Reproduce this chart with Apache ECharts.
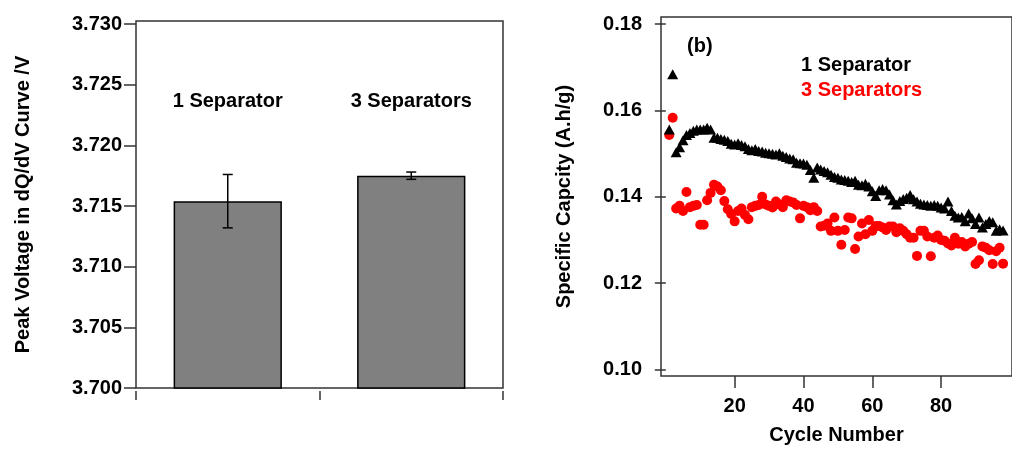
<!DOCTYPE html>
<html>
<head>
<meta charset="utf-8">
<script src="https://cdn.jsdelivr.net/npm/echarts@6/dist/echarts.min.js"></script>
<style>
  html, body { margin: 0; padding: 0; background: #fff; }
  #main { width: 1012px; height: 450px; }
</style>
</head>
<body>
<div id="main"></div>
<script>
// left panel: peak voltage bars
const barCategories = ['1 Separator', '3 Separators'];
const peakVoltage = [3.7154, 3.7175];
const peakVoltageErr = [0.0022, 0.0003];
const voltageTicks = [3.700, 3.705, 3.710, 3.715, 3.720, 3.725, 3.730];

// right panel: specific capacity vs cycle (cycle 1..98)
const capacity1Sep = [
  0.1556, 0.1684, 0.1503, 0.1515, 0.1531, 0.1543, 0.1548, 0.1553, 0.1556, 0.1556,
  0.1556, 0.1560, 0.1556, 0.1537, 0.1537, 0.1534, 0.1532, 0.1529, 0.1523, 0.1521,
  0.1524, 0.1520, 0.1517, 0.1511, 0.1508, 0.1511, 0.1506, 0.1505, 0.1502, 0.1501,
  0.1500, 0.1498, 0.1501, 0.1495, 0.1492, 0.1489, 0.1487, 0.1479, 0.1478, 0.1477,
  0.1474, 0.1462, 0.1444, 0.1468, 0.1463, 0.1460, 0.1457, 0.1451, 0.1446, 0.1444,
  0.1440, 0.1439, 0.1437, 0.1434, 0.1437, 0.1428, 0.1427, 0.1430, 0.1424, 0.1413,
  0.1402, 0.1415, 0.1418, 0.1415, 0.1405, 0.1392, 0.1382, 0.1390, 0.1395, 0.1398,
  0.1404, 0.1394, 0.1389, 0.1384, 0.1382, 0.1381, 0.1379, 0.1381, 0.1379, 0.1375,
  0.1373, 0.1389, 0.1367, 0.1356, 0.1352, 0.1353, 0.1343, 0.1361, 0.1350, 0.1337,
  0.1352, 0.1329, 0.1337, 0.1344, 0.1341, 0.1321, 0.1325, 0.1322
];
const capacity3Sep = [
  0.1543, 0.1583, 0.1373, 0.1379, 0.1367, 0.1411, 0.1376, 0.1379, 0.1381, 0.1335,
  0.1335, 0.1392, 0.1409, 0.1428, 0.1424, 0.1415, 0.1390, 0.1371, 0.1360, 0.1343,
  0.1367, 0.1373, 0.1358, 0.1348, 0.1376, 0.1379, 0.1381, 0.1400, 0.1382, 0.1379,
  0.1375, 0.1389, 0.1382, 0.1376, 0.1392, 0.1389, 0.1387, 0.1381, 0.1350, 0.1379,
  0.1376, 0.1369, 0.1376, 0.1367, 0.1331, 0.1333, 0.1338, 0.1321, 0.1352, 0.1321,
  0.1289, 0.1323, 0.1352, 0.1350, 0.1279, 0.1308, 0.1338, 0.1313, 0.1346, 0.1321,
  0.1332, 0.1332, 0.1329, 0.1323, 0.1331, 0.1331, 0.1318, 0.1327, 0.1321, 0.1313,
  0.1305, 0.1305, 0.1263, 0.1321, 0.1321, 0.1308, 0.1262, 0.1305, 0.1310, 0.1300,
  0.1298, 0.1292, 0.1287, 0.1305, 0.1291, 0.1295, 0.1285, 0.1291, 0.1295, 0.1244,
  0.1253, 0.1285, 0.1282, 0.1276, 0.1244, 0.1274, 0.1282, 0.1245
];
const capacityTicks = [0.10, 0.12, 0.14, 0.16, 0.18];
const cycleTicks = [20, 40, 60, 80];

const FONT = "'Liberation Sans', Arial, sans-serif";
const frameColor = '#333';
const labelStyle = { color: '#000', fontFamily: FONT, fontWeight: 'bold', fontSize: 20 };

const chart = echarts.init(document.getElementById('main'), null, { renderer: 'canvas' });

const toPoints = arr => arr.map((v, i) => [i + 1, v]);

const option = {
  animation: false,
  backgroundColor: '#fff',
  grid: [
    { left: 136, top: 21, width: 367, height: 367, show: true, borderColor: frameColor, borderWidth: 1.5, backgroundColor: 'transparent' },
    { left: 661, top: 17, right: -10, height: 363, show: true, borderColor: frameColor, borderWidth: 1.5, backgroundColor: 'transparent' }
  ],
  legend: {
    data: [
      { name: '1 Separator', textStyle: { color: '#000' } },
      { name: '3 Separators', textStyle: { color: '#ff0000' } }
    ],
    orient: 'vertical',
    left: 796,
    top: 55,
    padding: 0,
    itemWidth: 0,
    itemHeight: 0,
    itemGap: 5,
    icon: 'none',
    selectedMode: false,
    textStyle: { fontFamily: FONT, fontWeight: 'bold', fontSize: 20, lineHeight: 20 }
  },
  xAxis: [
    {
      gridIndex: 0, type: 'category', data: barCategories,
      offset: 3,
      axisLine: { show: false },
      axisTick: { show: true, length: 9, lineStyle: { color: frameColor, width: 1.5 } },
      axisLabel: { show: false },
      splitLine: { show: false }
    },
    {
      gridIndex: 0, type: 'category', data: barCategories, position: 'top',
      axisLine: { show: false },
      axisTick: { show: false },
      axisLabel: { inside: true, margin: 70, ...labelStyle },
      splitLine: { show: false }
    },
    {
      gridIndex: 1, type: 'value', min: -1.4, max: 100.6,
      name: 'Cycle Number', nameLocation: 'middle', nameGap: 49,
      nameTextStyle: labelStyle,
      axisLine: { show: false },
      axisTick: { show: true, length: 12, customValues: cycleTicks, lineStyle: { color: frameColor, width: 1.5 } },
      axisLabel: { customValues: cycleTicks, margin: 20, ...labelStyle },
      splitLine: { show: false }
    }
  ],
  yAxis: [
    {
      gridIndex: 0, type: 'value', min: 3.700, max: 3.73025,
      name: 'Peak Voltage in dQ/dV Curve /V', nameLocation: 'middle', nameGap: 103,
      nameTextStyle: labelStyle,
      axisLine: { show: false },
      axisTick: { show: true, length: 12, customValues: voltageTicks, lineStyle: { color: frameColor, width: 1.5 } },
      axisLabel: { customValues: voltageTicks, margin: 14, formatter: v => v.toFixed(3), ...labelStyle },
      splitLine: { show: false }
    },
    {
      gridIndex: 1, type: 'value', min: 0.09846, max: 0.18167,
      name: 'Specific Capcity (A.h/g)', nameLocation: 'middle', nameGap: 87,
      nameTextStyle: labelStyle,
      axisLine: { show: false },
      axisTick: { show: true, length: 11, customValues: capacityTicks, lineStyle: { color: frameColor, width: 1.5 } },
      axisLabel: { customValues: capacityTicks, margin: 19, formatter: v => v.toFixed(2), ...labelStyle },
      splitLine: { show: false }
    }
  ],
  graphic: [
    { type: 'text', left: 687, top: 36, style: { text: '(b)', fill: '#000', font: "bold 20px 'Liberation Sans', Arial, sans-serif" } }
  ],
  series: [
    {
      type: 'bar', xAxisIndex: 0, yAxisIndex: 0,
      data: peakVoltage,
      barWidth: '59%',
      itemStyle: { color: '#808080', borderColor: '#000', borderWidth: 1.5 }
    },
    {
      type: 'custom', xAxisIndex: 0, yAxisIndex: 0,
      data: peakVoltage.map((v, i) => [i, v - peakVoltageErr[i], v + peakVoltageErr[i]]),
      renderItem: (params, api) => {
        const lo = api.coord([api.value(0), api.value(1)]);
        const hi = api.coord([api.value(0), api.value(2)]);
        const hw = 5;
        const style = { stroke: '#000', lineWidth: 1.5 };
        return {
          type: 'group',
          children: [
            { type: 'line', shape: { x1: hi[0], y1: hi[1], x2: lo[0], y2: lo[1] }, style },
            { type: 'line', shape: { x1: hi[0] - hw, y1: hi[1], x2: hi[0] + hw, y2: hi[1] }, style },
            { type: 'line', shape: { x1: lo[0] - hw, y1: lo[1], x2: lo[0] + hw, y2: lo[1] }, style }
          ]
        };
      },
      z: 5
    },
    {
      name: '3 Separators', type: 'scatter', xAxisIndex: 2, yAxisIndex: 1,
      data: toPoints(capacity3Sep),
      symbol: 'circle', symbolSize: 10,
      itemStyle: { color: '#ff0000', opacity: 1 }
    },
    {
      name: '1 Separator', type: 'scatter', xAxisIndex: 2, yAxisIndex: 1,
      data: toPoints(capacity1Sep),
      symbol: 'triangle', symbolSize: [11, 10],
      itemStyle: { color: '#000', opacity: 1 }
    }
  ]
};

chart.setOption(option);
</script>
</body>
</html>
